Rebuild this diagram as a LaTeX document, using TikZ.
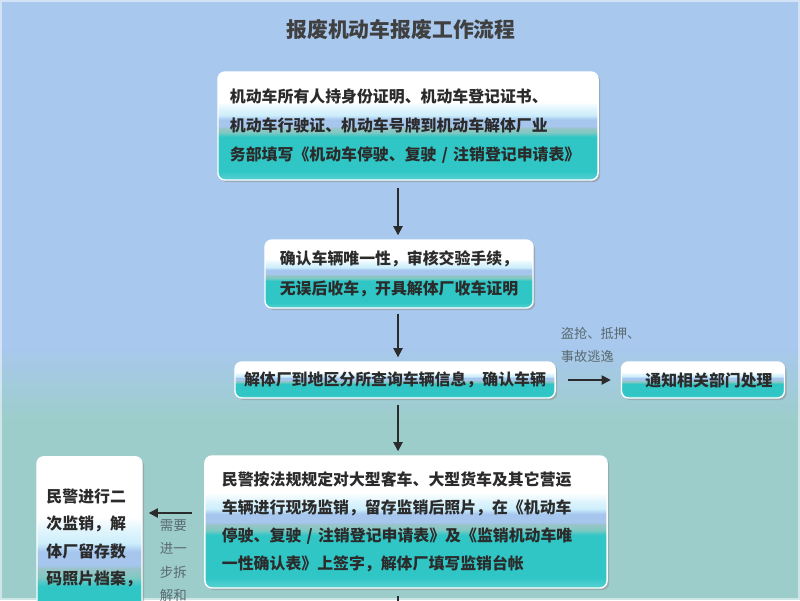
\documentclass[tikz,border=0pt]{standalone}
\usepackage{fontspec}
\newfontfamily\cjk{Noto Sans CJK SC}
\usepackage{tikz}
\usetikzlibrary{arrows.meta,shadows}
\definecolor{SkyBack}{HTML}{A8C8EE}
\definecolor{SeaBack}{HTML}{9DCDCB}
\definecolor{BoxTeal}{HTML}{30C6C6}
\definecolor{BoxSea}{HTML}{7EC9C2}
\definecolor{BoxGrey}{HTML}{98C4C8}
\definecolor{BoxBlue}{HTML}{A6C6EE}
\definecolor{BoxCyan}{HTML}{CCEEFB}
\definecolor{FlowInk}{HTML}{2B2B2B}
\definecolor{NoteInk}{HTML}{5A6A70}
% glossy band fill of the step boxes (path maps to 25bp..75bp)
\pgfdeclareverticalshading{boxshade}{100bp}{color(0bp)=(BoxTeal);
  color(25bp)=(BoxTeal!80!white); color(29bp)=(BoxTeal); color(45bp)=(BoxTeal);
  color(47bp)=(BoxSea); color(49bp)=(BoxGrey); color(50bp)=(BoxBlue);
  color(53bp)=(BoxBlue); color(55bp)=(BoxCyan); color(58bp)=(BoxCyan!60!white);
  color(61bp)=(white); color(100bp)=(white)}

\begin{document}
\begin{tikzpicture}[
  x=0.025cm,y=-0.025cm,
  every node/.style={font=\cjk\bfseries\fontsize{11.3}{20.5}\selectfont,text=FlowInk},
  stepbox/.style={draw=white,line width=1pt,rounded corners=5pt,shade,shading=boxshade,
    drop shadow={shadow xshift=1.5pt,shadow yshift=-1.5pt,fill=black!45,opacity=.5},
    inner sep=0pt,align=left},
  flow/.style={-{Triangle[length=6.5pt,width=6.5pt]},draw=FlowInk,line width=1.2pt,
    shorten <=0.18cm,shorten >=0.1cm},
  note/.style={font=\cjk\fontsize{9.4}{16.5}\selectfont,text=NoteInk,align=left}
]
\useasboundingbox (0,0) rectangle (800,600);
\clip (0,0) rectangle (800,600);
% background: sky on top, sea below
\fill[SeaBack] (0,0) rectangle (800,600);
\fill[SkyBack] (0,0) rectangle (800,345);
\shade[top color=SkyBack,bottom color=SeaBack] (0,345) rectangle (800,420);
\draw[white,opacity=.5,line width=1pt] (1,1) rectangle (799,599);
\node[font=\cjk\bfseries\fontsize{14.8}{18}\selectfont,text=black!75] (title) at (401,30)
  {报废机动车报废工作流程};
% main column
\coordinate (spine) at (398,0);
\node[stepbox,minimum width=9.5cm,minimum height=2.7cm,text width=8.9cm] (papers) at (408,126)
  {机动车所有人持身份证明、机动车登记证书、\\
   机动车行驶证、机动车号牌到机动车解体厂业\\
   务部填写《机动车停驶、复驶 / 注销登记申请表》};
\node[stepbox,minimum width=6.7cm,minimum height=1.7cm,text width=6.2cm,align=center,
  font=\cjk\bfseries\fontsize{11.3}{21.5}\selectfont] (check) at (399,274)
  {确认车辆唯一性，审核交验手续，\\无误后收车，开具解体厂收车证明};
\node[stepbox,minimum width=8cm,minimum height=0.9cm,align=center] (query) at (395,380)
  {解体厂到地区分所查询车辆信息，确认车辆};
\node[stepbox,minimum width=4.075cm,minimum height=0.9cm,align=center] (notify) at (703,380)
  {\hspace{0.3cm}通知相关部门处理};
\node[stepbox,minimum width=10.05cm,minimum height=3.3cm,text width=9.2cm,
  font=\cjk\bfseries\fontsize{11.3}{20}\selectfont] (supervise) at (406,522)
  {民警按法规规定对大型客车、大型货车及其它营运\\
   车辆进行现场监销，留存监销后照片，在《机动车\\
   停驶、复驶 / 注销登记申请表》及《监销机动车唯\\
   一性确认表》上签字，解体厂填写监销台帐};
\node[stepbox,anchor=north,minimum width=2.625cm,text width=2.15cm,inner ysep=0.8cm,
  font=\cjk\bfseries\fontsize{11.3}{19.5}\selectfont] (second) at (89.5,456)
  {民警进行二\\次监销，解\\体厂留存数\\码照片档案，\\\rule{0pt}{1.3cm}};
\coordinate (exit) at (398,640);
% connectors
\draw[flow] (papers.south -| spine) -- (check.north -| spine);
\draw[flow,shorten <=0.12cm] (check.south -| spine) -- (query.north -| spine);
\draw[flow,shorten <=0.15cm] (query.south -| spine) -- (supervise.north -| spine);
\draw[flow,shorten >=0pt] (supervise.south -| spine) -- (exit);
\draw[flow,shorten <=0.3cm,shorten >=0.25cm] (query.east) -- (notify.west);
\node[note,anchor=south west] (reason) at (556,368) {盗抢、抵押、\\事故逃逸};
\coordinate (leftgo) at ([yshift=0.225cm]supervise.west);
\draw[flow,shorten <=0.3cm,shorten >=0.15cm] (leftgo) -- (leftgo -| second.east)
  node[note,midway,below=1pt,align=center,font=\cjk\fontsize{9.6}{16.5}\selectfont] (need)
  {需要\\进一\\步拆\\解和};
\end{tikzpicture}
\end{document}
